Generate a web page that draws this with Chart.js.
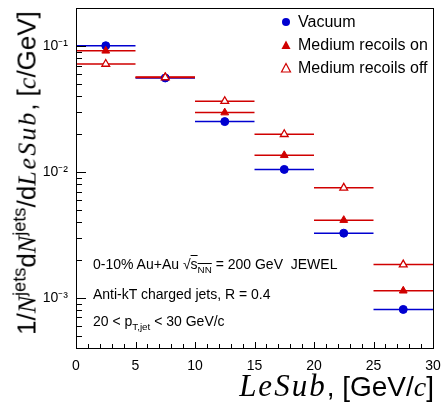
<!DOCTYPE html>
<html>
<head>
<meta charset="utf-8">
<script src="https://cdn.jsdelivr.net/npm/chart.js@4"></script>
<style>
  html, body { margin: 0; padding: 0; background: #fff; }
  #wrap { position: relative; width: 444px; height: 406px; font-family: "Liberation Sans", Arial, sans-serif; color: #000; }
  #chart { position: absolute; left: 0; top: 0; }
  .serif { font-family: "Liberation Serif", "Times New Roman", serif; font-style: italic; }
  .wide { letter-spacing: 2px; }
  #ytitle { position: absolute; left: 27px; top: 173px; transform: translate(-50%, -50%) rotate(-90deg); white-space: nowrap; font-size: 26px; }
  #xtitle { position: absolute; right: 10px; top: 368px; white-space: nowrap; font-size: 28px; }
  .legend { position: absolute; left: 280px; font-size: 16px; white-space: nowrap; display: flex; align-items: center; }
  .legend svg { margin-right: 6px; }
  .note { position: absolute; left: 93px; font-size: 14px; white-space: nowrap; }
  sup, sub { font-size: 70%; line-height: 0; }
</style>
</head>
<body>
<div id="wrap">
  <canvas id="chart" width="444" height="406"></canvas>
  <div id="ytitle">1/<span class="serif">N</span><sup>jets</sup>d<span class="serif">N</span><sup>jets</sup>/d<span class="serif wide">LeSub</span>, [<span class="serif">c</span>/GeV]</div>
  <div id="xtitle"><span class="serif wide" style="font-size:31px">LeSub</span>, [GeV/<span class="serif">c</span>]</div>
  <div class="legend" style="top:13px"><svg width="12" height="12"><circle cx="6" cy="6" r="4" fill="#0000d0"/></svg>Vacuum</div>
  <div class="legend" style="top:36px"><svg width="12" height="12"><polygon points="6,1.5 10.5,10 1.5,10" fill="#d00000"/></svg>Medium recoils on</div>
  <div class="legend" style="top:59px"><svg width="12" height="12"><polygon points="6,1.5 10.5,10 1.5,10" fill="#fff" stroke="#d00000" stroke-width="1.2"/></svg>Medium recoils off</div>
  <div class="note" style="top:256px">0-10% Au+Au &radic;<span style="text-decoration:overline">s<sub>NN</sub></span> = 200 GeV&nbsp; JEWEL</div>
  <div class="note" style="top:286px">Anti-kT charged jets, R = 0.4</div>
  <div class="note" style="top:313px">20 &lt; p<sub>T,jet</sub> &lt; 30 GeV/c</div>
</div>
<script>
const binEdges = [0, 5, 10, 15, 20, 25, 30];
const binCenters = [2.5, 7.5, 12.5, 17.5, 22.5, 27.5];
const vacuum = [0.101, 0.056, 0.0252, 0.0105, 0.00327, 0.00081];
const recoilsOn = [0.092, 0.057, 0.0297, 0.0136, 0.00415, 0.00114];
const recoilsOff = [0.0723, 0.0565, 0.0366, 0.0200, 0.0075, 0.00184];
const yDecades = [1e-3, 1e-2, 1e-1];
const yDecadeLabels = ["10\u207B\u00B3", "10\u207B\u00B2", "10\u207B\u00B9"];

const blue = "#0000d0";
const red = "#d00000";

function markerPoints(values) {
  return values.map((v, i) => ({ x: binCenters[i], y: v }));
}

// horizontal bin-width bars, broken between bins with a null point
function barPoints(values) {
  const pts = [];
  values.forEach((v, i) => {
    pts.push({ x: binEdges[i], y: v }, { x: binEdges[i + 1], y: v }, { x: binEdges[i + 1], y: null });
  });
  return pts;
}

function barSet(values, color, order) {
  return {
    type: "line",
    data: barPoints(values),
    borderColor: color,
    borderWidth: 1.5,
    pointRadius: 0,
    showLine: true,
    spanGaps: false,
    order,
  };
}

const frameTicks = {
  id: "frameTicks",
  afterDatasetsDraw(chart) {
    const { ctx, chartArea: a, scales } = chart;
    ctx.save();
    ctx.strokeStyle = "#000";
    ctx.lineWidth = 1;
    ctx.beginPath();
    for (let v = 0; v <= 30; v += 1) {
      const px = Math.round(scales.x.getPixelForValue(v)) + 0.5;
      const len = v % 5 === 0 ? 6 : 4;
      ctx.moveTo(px, a.bottom);
      ctx.lineTo(px, a.bottom - len);
    }
    for (let e = -4; e <= -1; e += 1) {
      for (let m = 1; m <= 9; m += 1) {
        const v = m * Math.pow(10, e);
        if (v < scales.y.min || v > scales.y.max) continue;
        const py = Math.round(scales.y.getPixelForValue(v)) + 0.5;
        const len = m === 1 ? 10 : 6;
        ctx.moveTo(a.left, py);
        ctx.lineTo(a.left + len, py);
      }
    }
    ctx.stroke();
    ctx.strokeRect(Math.round(a.left) + 0.5, Math.round(a.top) + 0.5, Math.round(a.right - a.left), Math.round(a.bottom - a.top));
    ctx.restore();
  },
};

new Chart(document.getElementById("chart"), {
  type: "scatter",
  data: {
    datasets: [
      barSet(vacuum, blue, 10),
      barSet(recoilsOn, red, 9),
      barSet(recoilsOff, red, 8),
      {
        label: "Vacuum",
        data: markerPoints(vacuum),
        pointStyle: "circle",
        pointRadius: 4,
        backgroundColor: blue,
        borderColor: blue,
        borderWidth: 1,
        order: 3,
      },
      {
        label: "Medium recoils on",
        data: markerPoints(recoilsOn),
        pointStyle: "triangle",
        pointRadius: 4.5,
        backgroundColor: red,
        borderColor: red,
        borderWidth: 1,
        order: 2,
      },
      {
        label: "Medium recoils off",
        data: markerPoints(recoilsOff),
        pointStyle: "triangle",
        pointRadius: 4.5,
        backgroundColor: "#fff",
        borderColor: red,
        borderWidth: 1.3,
        order: 1,
      },
    ],
  },
  options: {
    responsive: false,
    animation: false,
    layout: { padding: { top: 5, right: 11, left: 0, bottom: 0 } },
    plugins: { legend: { display: false }, tooltip: { enabled: false } },
    scales: {
      x: {
        type: "linear",
        min: 0,
        max: 30,
        grid: { display: false },
        border: { display: false },
        ticks: {
          stepSize: 5,
          maxRotation: 0,
          padding: 2,
          color: "#000",
          font: { family: "Liberation Sans", size: 14 },
        },
        afterFit: (scale) => { scale.height = 58; },
      },
      y: {
        type: "logarithmic",
        min: 4e-4,
        max: 0.2,
        grid: { display: false },
        border: { display: false },
        afterBuildTicks: (scale) => { scale.ticks = yDecades.map((v) => ({ value: v })); },
        ticks: {
          padding: 0,
          color: "#000",
          font: { family: "Liberation Sans", size: 14 },
          callback: (value) => yDecadeLabels[yDecades.indexOf(value)] ?? "",
        },
        afterFit: (scale) => { scale.width = 76; },
      },
    },
  },
  plugins: [frameTicks],
});
</script>
</body>
</html>
